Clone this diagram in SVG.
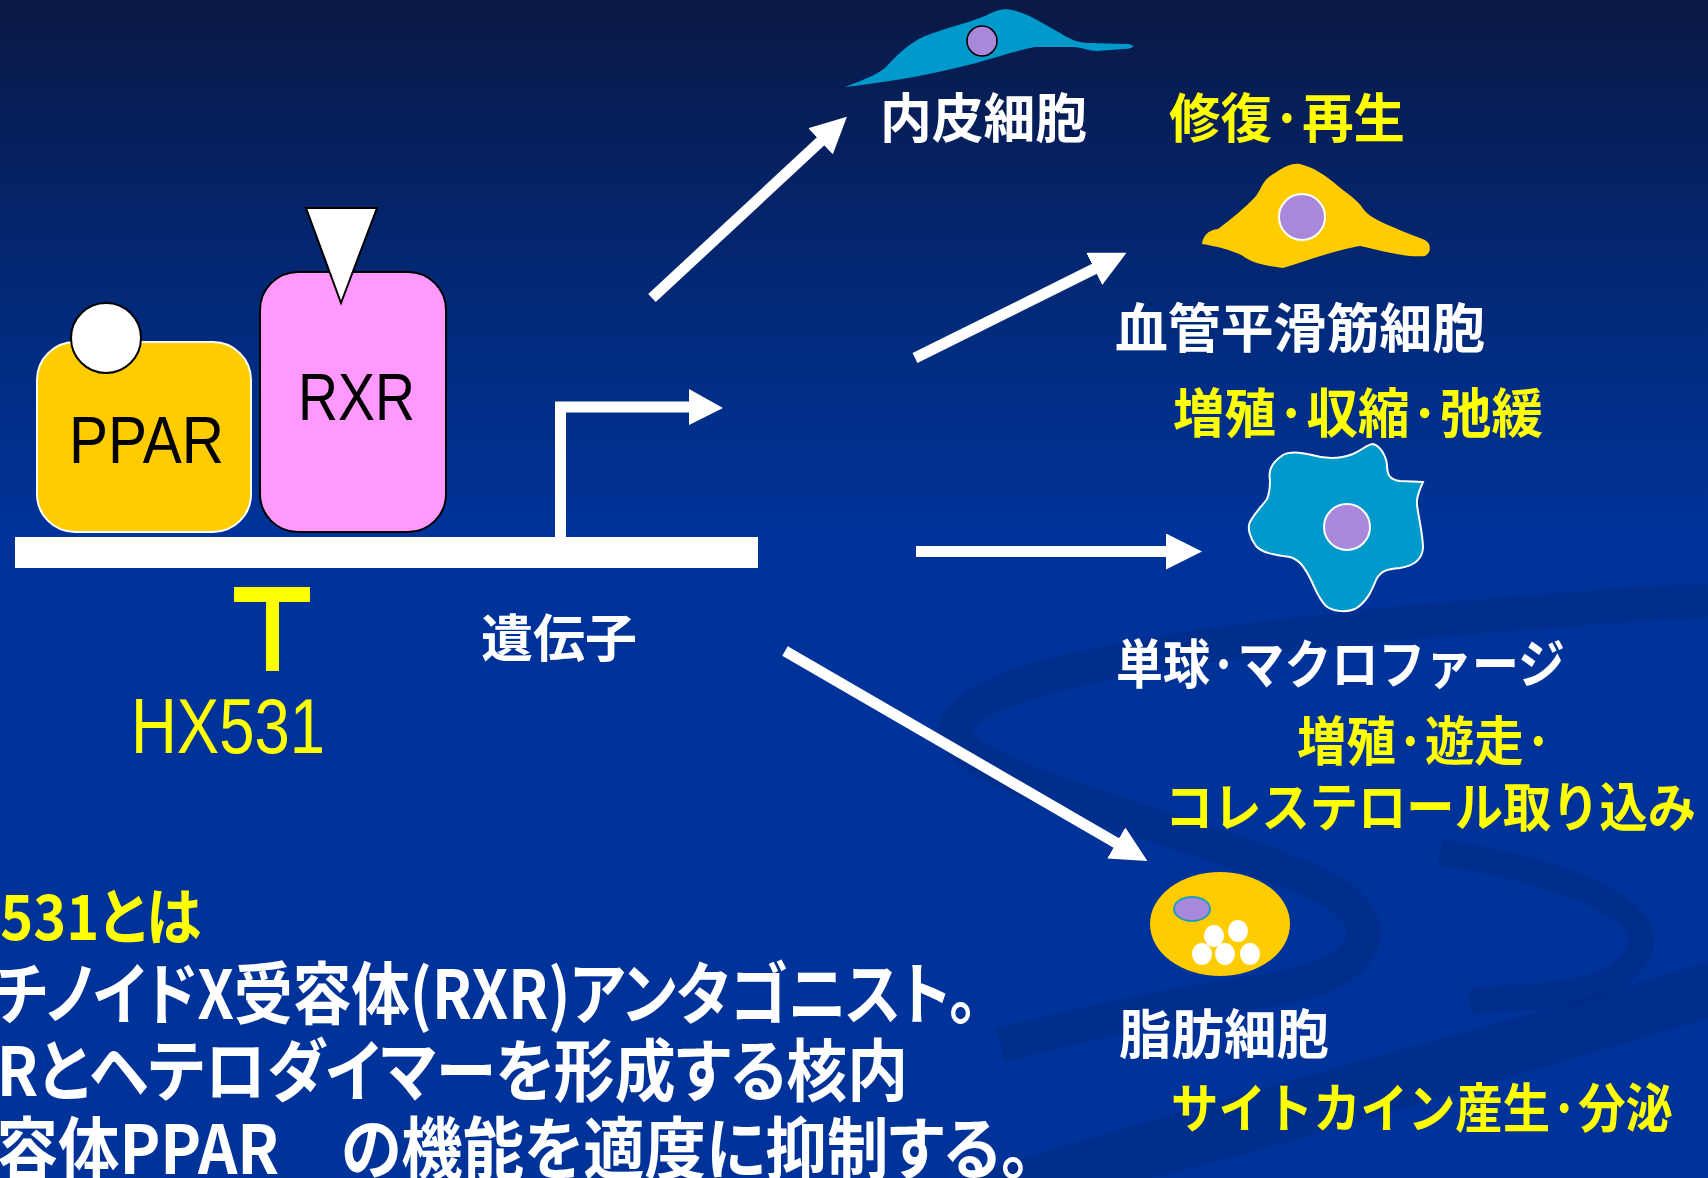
<svg xmlns="http://www.w3.org/2000/svg" width="1708" height="1178" viewBox="0 0 1708 1178">
  <defs>
    <linearGradient id="bg" x1="0" y1="0" x2="0" y2="1">
      <stop offset="0" stop-color="#0A1944"/>
      <stop offset="0.12" stop-color="#06205E"/>
      <stop offset="0.3" stop-color="#012C80"/>
      <stop offset="0.45" stop-color="#003399"/>
      <stop offset="1" stop-color="#003399"/>
    </linearGradient>
    <marker id="head" markerUnits="userSpaceOnUse" markerWidth="38" markerHeight="38" refX="2" refY="18" orient="auto">
      <path d="M0,0 L36,18 L0,36 Z" fill="#FFFFFF"/>
    </marker>
    <style>
      .jw { fill: #FFFFFF; font-family: "Noto Sans CJK JP", "Noto Sans CJK SC", sans-serif; font-weight: 700; }
      .jy { fill: #FFFF00; font-family: "Noto Sans CJK JP", "Noto Sans CJK SC", sans-serif; font-weight: 700; }
      .lbl { font-size: 53px; }
      .body { font-size: 68px; font-feature-settings: "palt"; }
      .lat { font-family: "Liberation Sans", Arial, sans-serif; }
      .swirl { fill: none; stroke: #00297F; stroke-opacity: 0.45; }
      .cyto-blue { fill: #0099CC; }
      .nuc { fill: #A987DB; }
      .conn { stroke: #FFFFFF; stroke-width: 11; fill: none; marker-end: url(#head); }
    </style>
  </defs>

  <!-- background -->
  <rect x="0" y="0" width="1708" height="1178" fill="url(#bg)"/>
  <g id="backdrop-swirl">
    <path class="swirl" stroke-width="34" d="M1708,600 C1380,620 1010,655 960,718 C920,770 1150,815 1310,880 C1400,920 1370,975 1270,990 C1190,1002 1120,1015 1000,1045"/>
    <path class="swirl" stroke-width="26" d="M1440,852 C1610,880 1690,930 1610,980 C1570,1000 1520,995 1470,1002"/>
    <path fill="#00297F" fill-opacity="0.45" d="M960,1178 C1210,1100 1480,1030 1708,962 L1708,1018 C1500,1080 1270,1150 1150,1178 Z"/>
  </g>

  <!-- receptor complex on DNA -->
  <g id="gene">
    <rect x="15" y="537" width="743" height="31" fill="#FFFFFF"/>
    <path d="M560.5,537 V407 H691" fill="none" stroke="#FFFFFF" stroke-width="11"/>
    <polygon points="689,389 723,408 689,425" fill="#FFFFFF"/>
    <text class="jw" x="481" y="657" font-size="51" textLength="156" lengthAdjust="spacingAndGlyphs">遺伝子</text>
  </g>

  <g id="ppar">
    <rect x="37" y="342" width="214" height="190" rx="38" ry="38" fill="#FFCC00" stroke="#FFFFFF" stroke-width="2"/>
    <circle cx="106" cy="338" r="35" fill="#FFFFFF" stroke="#000000" stroke-width="2"/>
    <text class="lat" x="69" y="463" font-size="67" fill="#000000" textLength="155" lengthAdjust="spacingAndGlyphs">PPAR</text>
  </g>

  <g id="rxr">
    <rect x="260" y="272" width="186" height="260" rx="38" ry="38" fill="#FF99FF" stroke="#000000" stroke-width="2"/>
    <polygon points="306,208 377,208 341,303" fill="#FFFFFF" stroke="#000000" stroke-width="2" stroke-linejoin="miter"/>
    <text class="lat" x="298" y="420" font-size="66" fill="#000000" textLength="117" lengthAdjust="spacingAndGlyphs">RXR</text>
  </g>

  <g id="hx531">
    <rect x="234" y="587" width="76" height="15" fill="#FFFF00"/>
    <rect x="266" y="587" width="13" height="84" fill="#FFFF00"/>
    <text class="lat" x="131" y="753" font-size="77" fill="#FFFF00" textLength="194" lengthAdjust="spacingAndGlyphs">HX531</text>
  </g>

  <!-- target cells -->
  <g id="endothelial">
    <path class="cyto-blue" d="M845,87 C860,81 875,76 885,68 C895,58 905,45 925,36 C945,28 965,24 985,16 C995,11 1003,8 1012,10 C1030,14 1045,25 1060,33 C1070,39 1077,43 1090,43 L1128,44 C1136,45 1134,49 1124,49 L1097,51 C1088,51 1082,47 1072,47 L1035,47 C1010,52 990,60 960,67 C920,77 880,83 845,87 Z"/>
    <circle class="nuc" cx="982" cy="41" r="15" stroke="#000000" stroke-width="1.5"/>
    <text class="jw lbl" x="880" y="138" textLength="207" lengthAdjust="spacingAndGlyphs">内皮細胞</text>
    <text class="jy lbl" x="1169" y="138" textLength="236" lengthAdjust="spacingAndGlyphs">修復·再生</text>
  </g>

  <g id="smooth-muscle">
    <path fill="#FFCC00" d="M1202,244 C1203,236 1208,230 1218,229 C1230,220 1245,208 1256,196 C1262,188 1262,180 1275,173 C1285,166 1293,163 1300,164 C1315,168 1325,175 1338,186 C1350,196 1358,200 1364,210 C1372,220 1395,228 1425,240 C1432,244 1431,253 1425,256 C1405,258 1380,250 1360,246 C1340,249 1315,258 1283,268 C1265,266 1250,262 1243,256 C1232,250 1215,246 1202,244 Z"/>
    <circle class="nuc" cx="1302" cy="217" r="23" stroke="#FFFFFF" stroke-width="2"/>
    <text class="jw lbl" x="1115" y="348" textLength="370" lengthAdjust="spacingAndGlyphs">血管平滑筋細胞</text>
    <text class="jy lbl" x="1173" y="433" textLength="370" lengthAdjust="spacingAndGlyphs">増殖·収縮·弛緩</text>
  </g>

  <g id="macrophage">
    <path class="cyto-blue" stroke="#FFFFFF" stroke-width="2" d="M1270,480 C1268,470 1272,462 1283,455 C1290,451 1300,452 1312,455 C1325,459 1340,459 1353,454 C1362,450 1368,444 1373,444 C1380,446 1386,455 1387,465 C1387,475 1390,480 1400,481 L1423,482 C1420,490 1416,496 1417,505 C1419,520 1423,535 1423,548 C1422,560 1413,566 1400,568 C1385,569 1380,572 1376,580 C1372,590 1367,602 1355,609 C1345,613 1332,611 1326,606 C1318,598 1315,588 1311,580 C1305,568 1300,560 1290,557 C1275,555 1262,553 1256,546 C1250,538 1247,528 1250,522 C1254,514 1262,506 1267,499 C1270,492 1270,486 1270,480 Z"/>
    <circle class="nuc" cx="1347" cy="527" r="23" stroke="#FFFFFF" stroke-width="2"/>
    <text class="jw lbl" x="1116" y="684" textLength="449" lengthAdjust="spacingAndGlyphs">単球·マクロファージ</text>
    <text class="jy lbl" x="1297" y="761" textLength="256" lengthAdjust="spacingAndGlyphs">増殖·遊走·</text>
    <text class="jy lbl" x="1165" y="827" textLength="531" lengthAdjust="spacingAndGlyphs">コレステロール取り込み</text>
  </g>

  <g id="adipocyte">
    <ellipse cx="1220" cy="924" rx="70" ry="52" fill="#FFCC00"/>
    <ellipse class="nuc" cx="1192" cy="909" rx="18" ry="12" stroke="#1E9EC0" stroke-width="2"/>
    <g fill="#FFFFFF">
      <ellipse cx="1238" cy="931" rx="10" ry="11"/>
      <ellipse cx="1214" cy="936" rx="10" ry="11"/>
      <ellipse cx="1202" cy="954" rx="10" ry="11"/>
      <ellipse cx="1225" cy="954" rx="10" ry="11"/>
      <ellipse cx="1250" cy="954" rx="10" ry="11"/>
    </g>
    <text class="jw lbl" x="1119" y="1054" textLength="210" lengthAdjust="spacingAndGlyphs">脂肪細胞</text>
    <text class="jy lbl" x="1171" y="1128" textLength="502" lengthAdjust="spacingAndGlyphs">サイトカイン産生·分泌</text>
  </g>

  <!-- description -->
  <g id="description">
    <text class="jy" x="-77" y="940" font-size="62" style="font-feature-settings:'palt'" textLength="278" lengthAdjust="spacingAndGlyphs">HX531とは</text>
    <text class="jw body" x="-62" y="1019" textLength="1040" lengthAdjust="spacingAndGlyphs">レチノイドX受容体(RXR)アンタゴニスト。</text>
    <text class="jw body" x="-120" y="1096" textLength="1028" lengthAdjust="spacingAndGlyphs">PPARとヘテロダイマーを形成する核内</text>
    <text class="jw body" x="-65" y="1174" textLength="1096" lengthAdjust="spacingAndGlyphs">受容体PPAR　の機能を適度に抑制する。</text>
  </g>

  <!-- connectors -->
  <g id="connectors">
    <line class="conn" x1="652" y1="298" x2="822" y2="140"/>
    <line class="conn" x1="915" y1="358" x2="1096" y2="268"/>
    <line class="conn" x1="916" y1="551.5" x2="1168" y2="551.5"/>
    <line class="conn" x1="785" y1="651" x2="1118" y2="844"/>
  </g>
</svg>
